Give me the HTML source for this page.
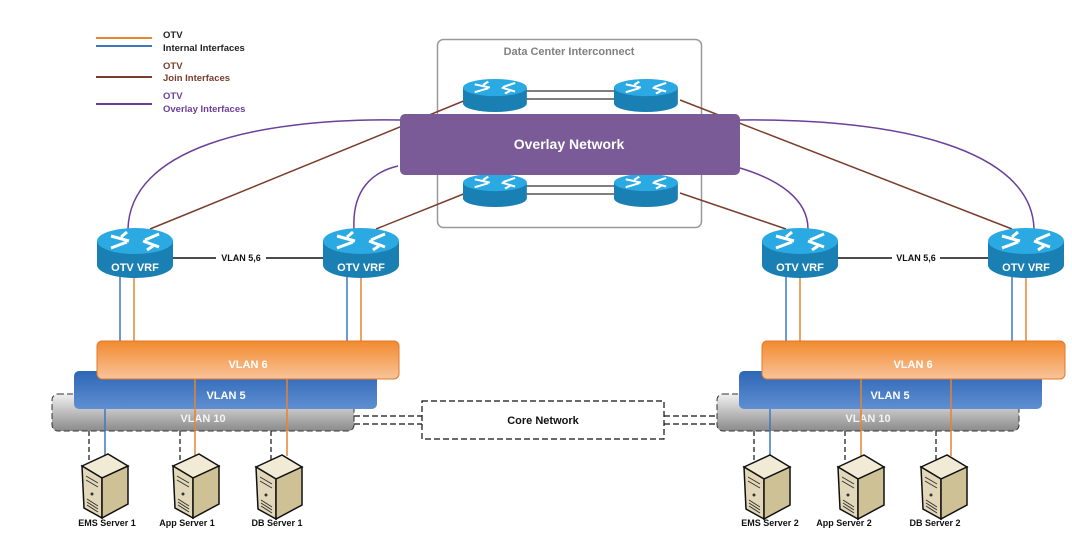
<!DOCTYPE html>
<html><head><meta charset="utf-8"><style>
html,body{margin:0;padding:0;background:#fff;}
svg{display:block;}
text{font-family:"Liberation Sans",sans-serif;font-weight:bold;}
</style></head><body>
<svg width="1072" height="559" viewBox="0 0 1072 559" xmlns="http://www.w3.org/2000/svg">
<defs>
<linearGradient id="gO" x1="0" y1="0" x2="0" y2="1"><stop offset="0" stop-color="#f28a2e"/><stop offset="1" stop-color="#f8c49a"/></linearGradient>
<linearGradient id="gB" x1="0" y1="0" x2="0" y2="1"><stop offset="0" stop-color="#2d66b5"/><stop offset="1" stop-color="#5f8fd2"/></linearGradient>
<linearGradient id="gG" x1="0" y1="0" x2="0" y2="1"><stop offset="0" stop-color="#f0f0f0"/><stop offset="1" stop-color="#8a8a8a"/></linearGradient>
<g id="rt">
<path d="M0 13 L0 37 A38 13 0 0 0 76 37 L76 13 Z" fill="#1a7fb3"/>
<ellipse cx="38" cy="13" rx="38" ry="13" fill="#2aa9e3"/>
<g stroke="#fff" stroke-width="3" fill="none">
<path d="M14 8 L32 13 M46 13 L62 19 M30 4 L24 9 M50 22 L56 18 M14 20 L30 14 M48 12 L62 6"/>
</g>
</g>
<g id="sv">
<polygon points="0,12 26,0 46,12 20,24" fill="#f1ead5" stroke="#111" stroke-width="1.5"/>
<polygon points="0,12 20,24 20,64 2,54" fill="#e2d7b8" stroke="#111" stroke-width="1.5"/>
<polygon points="20,24 46,12 46,50 20,64" fill="#cfc196" stroke="#111" stroke-width="1.5"/>
<path d="M4 22 L16 29 M4 26 L16 33 M5 45 L16 52 M5 48 L16 55 M5 51 L16 58" stroke="#333" stroke-width="1"/>
<circle cx="10" cy="40" r="1.5" fill="#333"/>
</g>
</defs>

<!-- legend -->
<line x1="96" y1="38" x2="152" y2="38" stroke="#e8832f" stroke-width="2"/>
<line x1="96" y1="46" x2="152" y2="46" stroke="#3c78c0" stroke-width="2"/>
<line x1="96" y1="77" x2="152" y2="77" stroke="#7b3d2c" stroke-width="2"/>
<line x1="96" y1="104" x2="152" y2="104" stroke="#6c3f9a" stroke-width="2"/>
<g font-size="9.5">
<text x="163" y="38" fill="#222">OTV</text>
<text x="163" y="51" fill="#222">Internal Interfaces</text>
<text x="163" y="69" fill="#7b3d2c">OTV</text>
<text x="163" y="81" fill="#7b3d2c">Join Interfaces</text>
<text x="163" y="99" fill="#6c3f9a">OTV</text>
<text x="163" y="112" fill="#6c3f9a">Overlay Interfaces</text>
</g>

<!-- DCI box -->
<rect x="437.5" y="39.5" width="264" height="188" rx="6" fill="#fff" stroke="#999" stroke-width="1.5"/>
<text x="569" y="55" font-size="11" fill="#808080" text-anchor="middle">Data Center Interconnect</text>
<g stroke="#333" stroke-width="1.3">
<line x1="520" y1="91" x2="620" y2="91"/><line x1="520" y1="99" x2="620" y2="99"/>
<line x1="520" y1="186" x2="620" y2="186"/><line x1="520" y1="194" x2="620" y2="194"/>
</g>

<!-- join lines -->
<g stroke="#7b3d2c" stroke-width="1.5" fill="none">
<line x1="150" y1="229" x2="466" y2="100"/>
<line x1="376" y1="229" x2="466" y2="193"/>
<line x1="680" y1="100" x2="1012" y2="229"/>
<line x1="680" y1="193" x2="786" y2="229"/>
</g>

<use href="#rt" transform="translate(463,79) scale(0.84,0.66)"/>
<use href="#rt" transform="translate(614,79) scale(0.84,0.66)"/>
<use href="#rt" transform="translate(463,174) scale(0.84,0.66)"/>
<use href="#rt" transform="translate(614,174) scale(0.84,0.66)"/>

<!-- overlay -->
<rect x="400" y="114" width="340" height="61" rx="5" fill="#7b5a98"/>
<text x="569" y="149" font-size="14" fill="#fff" text-anchor="middle">Overlay Network</text>

<!-- overlay curves -->
<g stroke="#6c3f9a" stroke-width="1.5" fill="none">
<path d="M128 229 C130 150 250 118 400 120"/>
<path d="M354 229 C352 190 372 172 398 166"/>
<path d="M740 120 C900 118 1032 150 1034 229"/>
<path d="M740 168 C780 180 808 200 808 229"/>
</g>

<!-- VLAN 5,6 lines -->
<g stroke="#111" stroke-width="1.5">
<line x1="172" y1="258" x2="216" y2="258"/><line x1="266" y1="258" x2="325" y2="258"/>
<line x1="837" y1="258" x2="892" y2="258"/><line x1="940" y1="258" x2="989" y2="258"/>
</g>
<text x="241" y="261" font-size="9" fill="#111" text-anchor="middle">VLAN 5,6</text>
<text x="916" y="261" font-size="9" fill="#111" text-anchor="middle">VLAN 5,6</text>

<!-- router to vlan lines -->
<g stroke-width="1.5">
<line x1="120" y1="276" x2="120" y2="342" stroke="#3c78c0"/><line x1="134" y1="276" x2="134" y2="342" stroke="#e8832f"/>
<line x1="347" y1="276" x2="347" y2="342" stroke="#3c78c0"/><line x1="361" y1="276" x2="361" y2="342" stroke="#e8832f"/>
<line x1="786" y1="276" x2="786" y2="342" stroke="#3c78c0"/><line x1="800" y1="276" x2="800" y2="342" stroke="#e8832f"/>
<line x1="1012" y1="276" x2="1012" y2="342" stroke="#3c78c0"/><line x1="1026" y1="276" x2="1026" y2="342" stroke="#e8832f"/>
</g>

<!-- OTV VRF routers -->
<g>
<use href="#rt" transform="translate(97,228)"/>
<use href="#rt" transform="translate(323,228)"/>
<use href="#rt" transform="translate(762,228)"/>
<use href="#rt" transform="translate(988,228)"/>
</g>
<g font-size="11" fill="#fff" text-anchor="middle">
<text x="135" y="271">OTV VRF</text><text x="361" y="271">OTV VRF</text>
<text x="800" y="271">OTV VRF</text><text x="1026" y="271">OTV VRF</text>
</g>

<!-- core network -->
<g stroke="#111" stroke-width="1.2" stroke-dasharray="6,3" fill="none">
<rect x="422" y="401" width="242" height="38"/>
<line x1="354" y1="416" x2="422" y2="416"/><line x1="354" y1="424" x2="422" y2="424"/>
<line x1="664" y1="416" x2="717" y2="416"/><line x1="664" y1="424" x2="717" y2="424"/>
</g>
<text x="543" y="424" font-size="11" fill="#111" text-anchor="middle">Core Network</text>

<!-- left VLANs -->
<rect x="52" y="394" width="302" height="37" rx="6" fill="url(#gG)" stroke="#333" stroke-dasharray="6,3"/>
<rect x="74" y="371" width="303" height="38" rx="5" fill="url(#gB)"/>
<rect x="97" y="341" width="302" height="38" rx="5" fill="url(#gO)" stroke="#e07a2a"/>
<g font-size="11" fill="#fff" text-anchor="middle">
<text x="248" y="368">VLAN 6</text><text x="226" y="399">VLAN 5</text><text x="203" y="422" fill="#f4f4f4">VLAN 10</text>
</g>
<!-- right VLANs -->
<rect x="717" y="394" width="302" height="37" rx="6" fill="url(#gG)" stroke="#333" stroke-dasharray="6,3"/>
<rect x="739" y="371" width="303" height="38" rx="5" fill="url(#gB)"/>
<rect x="762" y="341" width="303" height="38" rx="5" fill="url(#gO)" stroke="#e07a2a"/>
<g font-size="11" fill="#fff" text-anchor="middle">
<text x="913" y="368">VLAN 6</text><text x="890" y="399">VLAN 5</text><text x="868" y="422" fill="#f4f4f4">VLAN 10</text>
</g>

<!-- server lines -->
<g stroke-width="1.5">
<line x1="105" y1="409" x2="105" y2="456" stroke="#3c78c0"/>
<line x1="195" y1="379" x2="195" y2="456" stroke="#e8832f"/>
<line x1="287" y1="379" x2="287" y2="456" stroke="#e8832f"/>
<line x1="770" y1="409" x2="770" y2="456" stroke="#3c78c0"/>
<line x1="861" y1="379" x2="861" y2="456" stroke="#e8832f"/>
<line x1="951" y1="379" x2="951" y2="456" stroke="#e8832f"/>
</g>
<g stroke="#111" stroke-width="1.2" stroke-dasharray="5,3">
<line x1="89" y1="431" x2="89" y2="465"/><line x1="180" y1="431" x2="180" y2="465"/><line x1="271" y1="431" x2="271" y2="460"/>
<line x1="754" y1="431" x2="754" y2="465"/><line x1="845" y1="431" x2="845" y2="460"/><line x1="936" y1="431" x2="936" y2="460"/>
</g>

<!-- servers -->
<use href="#sv" transform="translate(82,454)"/>
<use href="#sv" transform="translate(173,454)"/>
<use href="#sv" transform="translate(256,455)"/>
<use href="#sv" transform="translate(744,455)"/>
<use href="#sv" transform="translate(838,455)"/>
<use href="#sv" transform="translate(921,455)"/>
<g font-size="9" fill="#111" text-anchor="middle">
<text x="107" y="526">EMS Server 1</text><text x="187" y="526">App Server 1</text><text x="277" y="526">DB Server 1</text>
<text x="770" y="526">EMS Server 2</text><text x="844" y="526">App Server 2</text><text x="935" y="526">DB Server 2</text>
</g>
</svg>
</body></html>
